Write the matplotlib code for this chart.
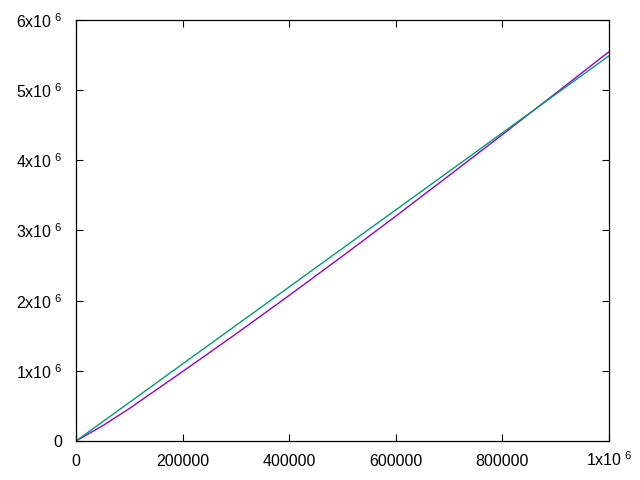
import matplotlib
matplotlib.use('Agg')
import matplotlib.pyplot as plt

plt.rcParams['font.family'] = ['Liberation Sans', 'DejaVu Sans']
plt.rcParams['mathtext.fontset'] = 'custom'
plt.rcParams['mathtext.rm'] = 'Liberation Sans'

# values (x and y in units of 1)
x_vals = [0, 50000, 100000, 200000, 300000, 400000, 500000,
          600000, 700000, 800000, 900000, 1000000]
purple_vals = [0, 217000, 462000, 990000, 1525000, 2075000, 2635000,
               3205000, 3784000, 4367000, 4956000, 5548000]
green_vals = [0, 274500, 549000, 1098000, 1647000, 2196000, 2745000,
              3294000, 3843000, 4392000, 4941000, 5490000]

x_ticks = [0, 200000, 400000, 600000, 800000, 1000000]
x_labels = ['0', '200000', '400000', '600000', '800000', r'$\mathregular{1x10^{\ 6}}$']
y_ticks = [0, 1e6, 2e6, 3e6, 4e6, 5e6, 6e6]
y_labels = ['0'] + [r'$\mathregular{%dx10^{\ 6}}$' % i for i in range(1, 7)]

fig = plt.figure(figsize=(6.4, 4.8), dpi=100)
ax = fig.add_axes([76 / 640, 39 / 480, 533 / 640, 421 / 480])

ax.plot(x_vals, purple_vals, color='#9400d3', lw=1.0)
ax.plot(x_vals, green_vals, color='#009e73', lw=1.0)

ax.set_xlim(0, 1000000)
ax.set_ylim(0, 6e6)
ax.set_xticks(x_ticks)
ax.set_xticklabels(x_labels)
ax.set_yticks(y_ticks)
ax.set_yticklabels(y_labels)

ax.tick_params(direction='in', length=5, width=0.8, top=True, right=True,
               labelsize=11.5, colors='black')
ax.tick_params(axis='y', pad=10)
ax.tick_params(axis='x', pad=18)
plt.setp(ax.get_xticklabels(), va='baseline')
for sp in ax.spines.values():
    sp.set_linewidth(0.9)

fig.savefig('out.png', dpi=100)
